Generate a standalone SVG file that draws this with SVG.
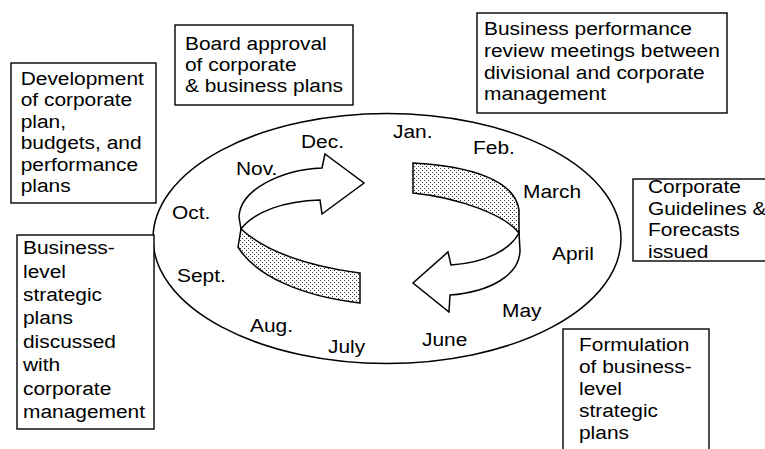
<svg xmlns="http://www.w3.org/2000/svg" width="765" height="449" viewBox="0 0 765 449">
<style>
.box{fill:#fff;stroke:#000;stroke-width:1.4}
.t{font-family:"Liberation Sans",Arial,Helvetica,sans-serif;font-size:19px;fill:#000}
.rib{stroke:#000;stroke-width:1.5;stroke-linejoin:miter}
.front{fill:#fff}
.back{fill:url(#dots)}
</style>
<defs>
<pattern id="dots" width="4" height="4" patternUnits="userSpaceOnUse">
<rect width="4" height="4" fill="#fff"/>
<rect x="0" y="0" width="1" height="1" fill="#333"/>
<rect x="2" y="2" width="1" height="1" fill="#333"/>
</pattern>
</defs>
<rect width="765" height="449" fill="#fff"/>

<g id="cycle">
<ellipse cx="387" cy="238.5" rx="234" ry="125" fill="none" stroke="#000" stroke-width="1.5"/>
</g>

<g id="connectors">
<g id="arrow-nov-dec">
<path class="rib back" d="M241,229 C262,248 300,265 360,273 L360,303 C300,296 255,275 238,247 Z"/>
<path class="rib front" d="M239,217 C240,190 280,170 322,168 L325,154 L364,183 L322,214 L320,200 C285,201 255,211 241,229 Z"/>
</g>
<g id="arrow-jan-may">
<path class="rib back" d="M413,163 C470,166 515,180 519,210 L519,233 C505,215 460,198 413,193 Z"/>
<path class="rib front" d="M519,233 L520,250 C520,275 490,292 450,295 L449,312 L413,283 L448,252 L451,265 C485,263 510,250 519,233 Z"/>
</g>
</g>

<g id="months">
<text class="t" transform="translate(393 138.3) scale(1.1 1)">Jan.</text>
<text class="t" transform="translate(473 154) scale(1.1 1)">Feb.</text>
<text class="t" transform="translate(523 198.3) scale(1.1 1)">March</text>
<text class="t" transform="translate(552 260) scale(1.1 1)">April</text>
<text class="t" transform="translate(502 317.3) scale(1.1 1)">May</text>
<text class="t" transform="translate(422 346) scale(1.1 1)">June</text>
<text class="t" transform="translate(328 353.3) scale(1.1 1)">July</text>
<text class="t" transform="translate(250 331.7) scale(1.1 1)">Aug.</text>
<text class="t" transform="translate(177 281.7) scale(1.1 1)">Sept.</text>
<text class="t" transform="translate(172 218.5) scale(1.1 1)">Oct.</text>
<text class="t" transform="translate(236 175) scale(1.1 1)">Nov.</text>
<text class="t" transform="translate(301 148.3) scale(1.1 1)">Dec.</text>
</g>

<g id="box-development">
<rect class="box" x="11" y="63" width="145" height="140"/>
<text class="t" transform="translate(20.7 0) scale(1.1 1)"><tspan x="0" y="85">Development</tspan><tspan x="0" y="106.5">of corporate</tspan><tspan x="0" y="128">plan,</tspan><tspan x="0" y="149.5">budgets, and</tspan><tspan x="0" y="171">performance</tspan><tspan x="0" y="192.5">plans</tspan></text>
</g>

<g id="box-board">
<rect class="box" x="175" y="25" width="178" height="80"/>
<text class="t" transform="translate(185 0) scale(1.1 1)"><tspan x="0" y="50">Board approval</tspan><tspan x="0" y="71">of corporate</tspan><tspan x="0" y="92">&amp; business plans</tspan></text>
</g>

<g id="box-review">
<rect class="box" x="477" y="13" width="250" height="100"/>
<text class="t" transform="translate(484 0) scale(1.1 1)"><tspan x="0" y="35">Business performance</tspan><tspan x="0" y="57">review meetings between</tspan><tspan x="0" y="79">divisional and corporate</tspan><tspan x="0" y="100">management</tspan></text>
</g>

<g id="box-guidelines">
<rect class="box" x="633" y="179" width="140" height="82"/>
<text class="t" transform="translate(648 0) scale(1.1 1)"><tspan x="0" y="193.5">Corporate</tspan><tspan x="0" y="215">Guidelines &amp;</tspan><tspan x="0" y="236.5">Forecasts</tspan><tspan x="0" y="258">issued</tspan></text>
</g>

<g id="box-formulation">
<rect class="box" x="563" y="329" width="146" height="130"/>
<text class="t" transform="translate(579 0) scale(1.1 1)"><tspan x="0" y="351.5">Formulation</tspan><tspan x="0" y="373.5">of business-</tspan><tspan x="0" y="395.5">level</tspan><tspan x="0" y="417.5">strategic</tspan><tspan x="0" y="439.5">plans</tspan></text>
</g>

<g id="box-discussed">
<rect class="box" x="17" y="235" width="137" height="194"/>
<text class="t" transform="translate(23 0) scale(1.1 1)"><tspan x="0" y="254.3">Business-</tspan><tspan x="0" y="277.7">level</tspan><tspan x="0" y="301.1">strategic</tspan><tspan x="0" y="324.5">plans</tspan><tspan x="0" y="347.9">discussed</tspan><tspan x="0" y="371.3">with</tspan><tspan x="0" y="394.7">corporate</tspan><tspan x="0" y="418.1">management</tspan></text>
</g>
</svg>
